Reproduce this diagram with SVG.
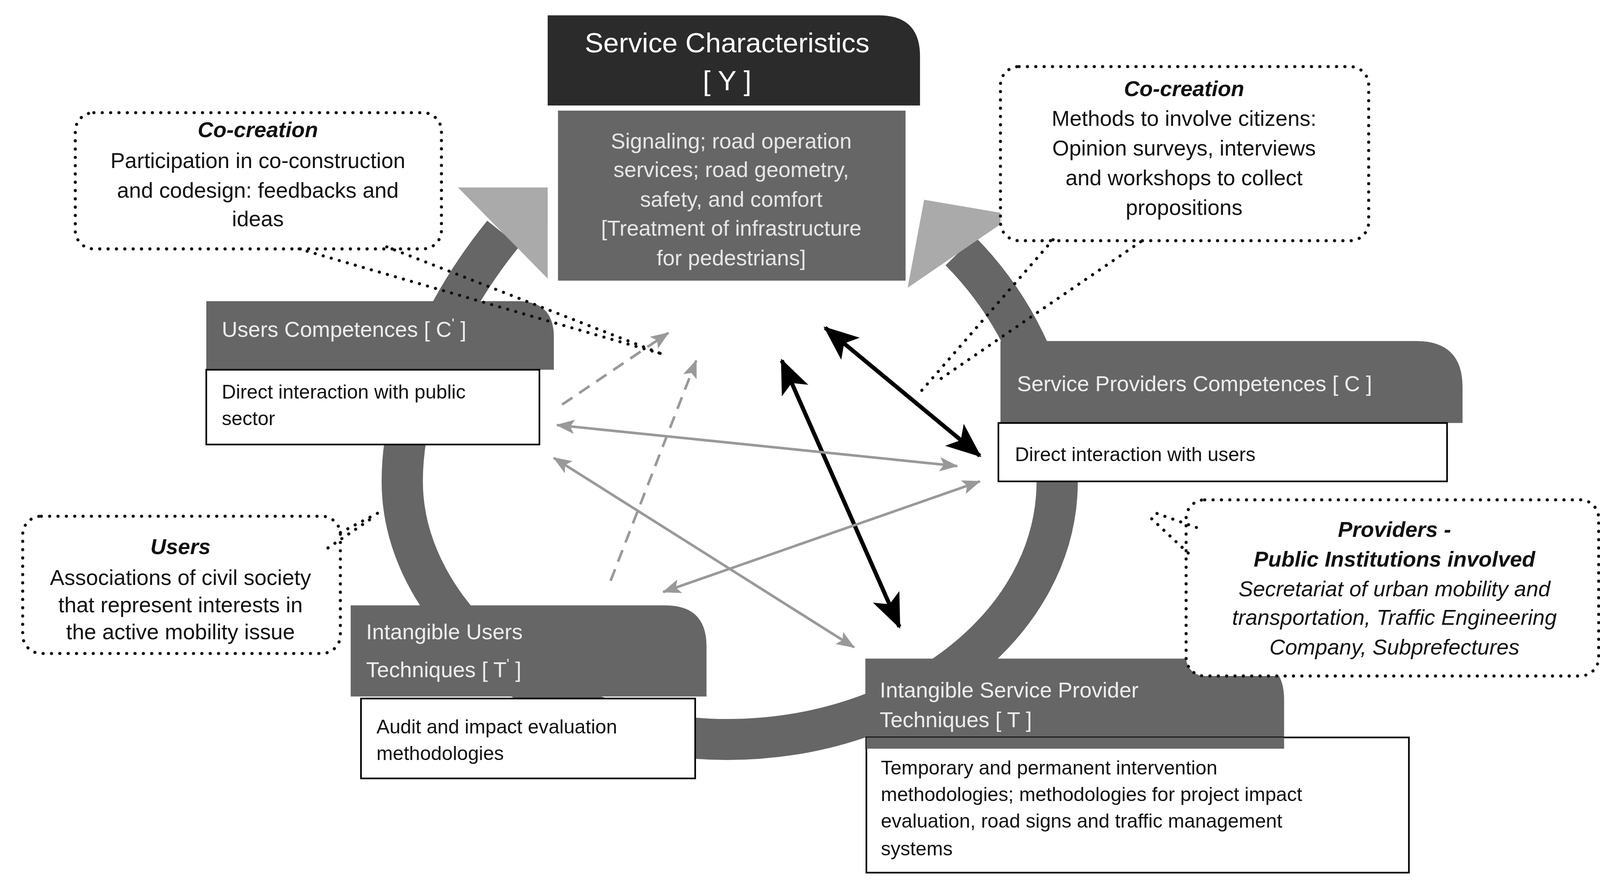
<svg xmlns="http://www.w3.org/2000/svg" width="4119" height="2270" viewBox="0 0 4119 2270">
<defs>
<style>
text{font-family:"Liberation Sans",Arial,sans-serif}
.hdr{fill:#666}
.hdrt{fill:#ededed;font-size:21px}
.box{fill:#fff;stroke:#000;stroke-width:1.6}
.bt{fill:#111;font-size:19px}
.call{fill:#fff;stroke:#111;stroke-width:3;stroke-dasharray:0.1 8;stroke-linecap:round}
.tail{fill:none;stroke:#111;stroke-width:3;stroke-dasharray:0.1 8;stroke-linecap:round}
.ct{fill:#111;font-size:21px;text-anchor:middle}
.cb{font-weight:bold;font-style:italic}
.blk{stroke:#000;stroke-width:4;fill:none}
.gry{stroke:#999;stroke-width:2.5;fill:none}
</style>
<marker id="ab" markerUnits="userSpaceOnUse" viewBox="0 0 34 28" refX="32" refY="14" markerWidth="34" markerHeight="28" orient="auto-start-reverse"><path d="M0 0L34 14L0 28L8 14Z" fill="#000"/></marker>
<marker id="ag" markerUnits="userSpaceOnUse" viewBox="0 0 18 14" refX="17" refY="7" markerWidth="18" markerHeight="14" orient="auto-start-reverse"><path d="M0 0L18 7L0 14L4 7Z" fill="#999"/></marker>
</defs>
<rect width="4119" height="2270" fill="#fff"/>
<g transform="scale(2.6404 2.6212)">
<g id="cycle">
<path d="M488 228C430 300 390 390 390 470C390 600 530 722 705 722C880 722 1025 610 1025 470C1025 380 985 300 931 245" fill="none" stroke="#666" stroke-width="40"/>
<polygon points="444,183 531,183 531,272" fill="#aaa"/>
<polygon points="896,195 983,210 880,281" fill="#aaa"/>
</g>
<g id="service-characteristics">
<path d="M531 15H852Q892 15 892 55V103H531Z" fill="#2b2b2b"/>
<text x="705" y="51" fill="#fff" font-size="27" text-anchor="middle">Service Characteristics</text>
<text x="705" y="88" fill="#fff" font-size="27" text-anchor="middle">[ Y ]</text>
<rect x="541" y="108" width="337" height="166" fill="#666"/>
<g fill="#e6e6e6" font-size="21" text-anchor="middle">
<text x="709" y="145">Signaling; road operation</text>
<text x="709" y="173">services; road geometry,</text>
<text x="709" y="202">safety, and comfort</text>
<text x="709" y="230">[Treatment of  infrastructure</text>
<text x="709" y="259">for pedestrians]</text>
</g>
</g>
<g id="users-competences">
<path d="M200 294H502Q537 294 537 329V361H200Z" class="hdr"/>
<text x="215" y="329" class="hdrt">Users Competences [ C<tspan dy="-8" font-size="14">'</tspan><tspan dy="8"> ]</tspan></text>
<rect x="200" y="361" width="323" height="73" class="box"/>
<text x="215" y="389" class="bt">Direct interaction with public</text>
<text x="215" y="415" class="bt">sector</text>
</g>
<g id="provider-competences">
<path d="M970 333H1373Q1418 333 1418 378V413H970Z" class="hdr"/>
<text x="986" y="382" class="hdrt">Service Providers Competences [ C ]</text>
<rect x="968" y="413" width="435" height="57" class="box"/>
<text x="984" y="450" class="bt">Direct interaction with users</text>
</g>
<g id="users-techniques">
<path d="M340 591H645Q685 591 685 631V680H340Z" class="hdr"/>
<text x="355" y="624" class="hdrt">Intangible Users</text>
<text x="355" y="661" class="hdrt">Techniques [ T<tspan dy="-8" font-size="14">'</tspan><tspan dy="8"> ]</tspan></text>
<rect x="350" y="682" width="324" height="78" class="box"/>
<text x="365" y="716" class="bt">Audit and impact evaluation</text>
<text x="365" y="742" class="bt">methodologies</text>
</g>
<g id="provider-techniques">
<path d="M839 643H1205Q1245 643 1245 683V731H839Z" class="hdr"/>
<text x="853" y="681" class="hdrt">Intangible  Service Provider</text>
<text x="853" y="710" class="hdrt">Techniques  [ T ]</text>
<rect x="840" y="720" width="526" height="132" class="box"/>
<path d="M840 720H1245V731H840Z" class="hdr"/>
<text x="854" y="756" class="bt">Temporary and permanent intervention</text>
<text x="854" y="782" class="bt">methodologies; methodologies for project impact</text>
<text x="854" y="808" class="bt">evaluation, road signs and traffic management</text>
<text x="854" y="835" class="bt">systems</text>
</g>
<g id="callout-cocreation-users">
<rect x="73" y="110" width="355" height="133" rx="18" class="call"/>
<path d="M290 243L640 345M375 241L640 345" class="tail"/>
<text x="250" y="134" class="ct cb" font-size="23">Co-creation</text>
<text x="250" y="164" class="ct">Participation in co-construction</text>
<text x="250" y="193" class="ct">and codesign: feedbacks and</text>
<text x="250" y="221" class="ct">ideas</text>
</g>
<g id="callout-cocreation-providers">
<rect x="970" y="65" width="357" height="170" rx="18" class="call"/>
<path d="M1021 234L893 382M1106 236L906 374" class="tail"/>
<text x="1148" y="94" class="ct cb" font-size="23">Co-creation</text>
<text x="1148" y="123" class="ct">Methods to involve citizens:</text>
<text x="1148" y="152" class="ct">Opinion surveys, interviews</text>
<text x="1148" y="181" class="ct">and workshops to collect</text>
<text x="1148" y="210" class="ct">propositions</text>
</g>
<g id="callout-users">
<rect x="22" y="504" width="308" height="134" rx="18" class="call"/>
<path d="M330 520L372 498M318 535L362 505" class="tail"/>
<text x="175" y="541" class="ct cb" font-size="22">Users</text>
<text x="175" y="571" class="ct">Associations of civil society</text>
<text x="175" y="598" class="ct">that represent interests in</text>
<text x="175" y="624" class="ct">the active mobility issue</text>
</g>
<g id="callout-providers">
<rect x="1150" y="488" width="400" height="172" rx="18" class="call"/>
<path d="M1152 540L1115 505M1160 515L1118 500" class="tail"/>
<text x="1352" y="524" class="ct cb">Providers -</text>
<text x="1352" y="553" class="ct cb">Public Institutions involved</text>
<text x="1352" y="582" class="ct" font-style="italic">Secretariat of urban mobility and</text>
<text x="1352" y="610" class="ct" font-style="italic">transportation, Traffic Engineering</text>
<text x="1352" y="639" class="ct" font-style="italic">Company, Subprefectures</text>
</g>
<g id="connectors">
<line x1="800" y1="320" x2="950" y2="445" class="blk" marker-start="url(#ab)" marker-end="url(#ab)"/>
<line x1="758" y1="352" x2="872" y2="612" class="blk" marker-start="url(#ab)" marker-end="url(#ab)"/>
<line x1="540" y1="415" x2="928" y2="455" class="gry" marker-start="url(#ag)" marker-end="url(#ag)"/>
<line x1="537" y1="447" x2="828" y2="632" class="gry" marker-start="url(#ag)" marker-end="url(#ag)"/>
<line x1="643" y1="578" x2="950" y2="470" class="gry" marker-start="url(#ag)" marker-end="url(#ag)"/>
<line x1="545" y1="395" x2="648" y2="325" class="gry" stroke-dasharray="12 8" marker-end="url(#ag)"/>
<line x1="592" y1="567" x2="675" y2="352" class="gry" stroke-dasharray="12 8" marker-end="url(#ag)"/>
</g>
</g>
</svg>
